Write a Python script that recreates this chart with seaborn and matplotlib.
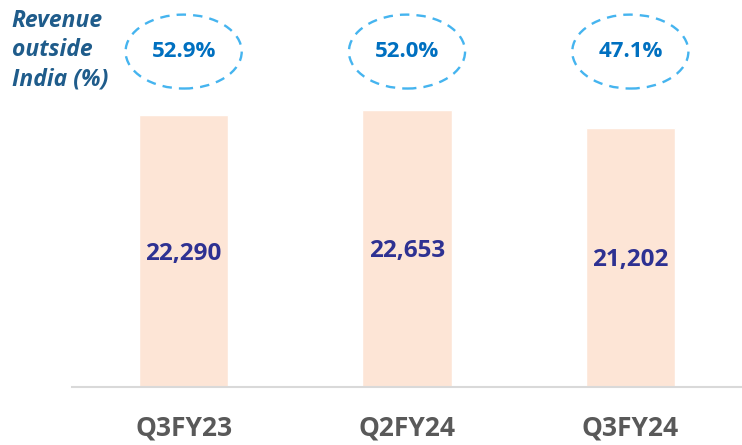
import matplotlib
matplotlib.use('Agg')
import matplotlib.pyplot as plt
from matplotlib.patches import Ellipse
import seaborn as sns
import pandas as pd

quarters = ['Q3FY23', 'Q2FY24', 'Q3FY24']
revenue = [22290, 22653, 21202]
outside_india = [52.9, 52.0, 47.1]

sns.set_style('white')
plt.rcParams['font.family'] = ['Open Sans', 'DejaVu Sans']

df = pd.DataFrame({'quarter': quarters, 'revenue': revenue})

fig = plt.figure(figsize=(7.42, 4.45), dpi=100)
ax = fig.add_axes([0.097, 0.1303, 0.903, 0.8697])
sns.barplot(data=df, x='quarter', y='revenue', color='#fde5d6', saturation=1,
            width=0.4, ax=ax)
ax.set_xlim(-0.5, 2.5)
ax.set_ylim(0, 31670)

for i, v in enumerate(revenue):
    ax.text(i, v * 0.49, f'{v:,}', ha='center', va='center', fontsize=17.5,
            fontweight='bold', color='#2e3192')

for i, p in enumerate(outside_india):
    ax.add_patch(Ellipse((i, 27450), 0.52, 6050, fill=False, ec='#45b4ef',
                         lw=1.7, ls=(0, (4, 3)), clip_on=False))
    ax.text(i, 27450, f'{p:.1f}%', ha='center', va='center', fontsize=16,
            fontweight='bold', color='#0070c0')

fig.text(0.016, 0.98, 'Revenue\noutside\nIndia (%)', ha='left', va='top',
         fontsize=16.5, fontweight='bold', fontstyle='italic', color='#1f5c8b',
         linespacing=1.3)

ax.set_xlabel('')
ax.set_ylabel('')
ax.set_yticks([])
ax.tick_params(axis='x', length=0, pad=20)
for lbl in ax.get_xticklabels():
    lbl.set_fontsize(19)
    lbl.set_fontweight('bold')
    lbl.set_color('#595959')
for s in ['top', 'right', 'left']:
    ax.spines[s].set_visible(False)
ax.spines['bottom'].set_color('#d9d9d9')
ax.spines['bottom'].set_linewidth(1.5)

plt.savefig('out.png', dpi=100)
